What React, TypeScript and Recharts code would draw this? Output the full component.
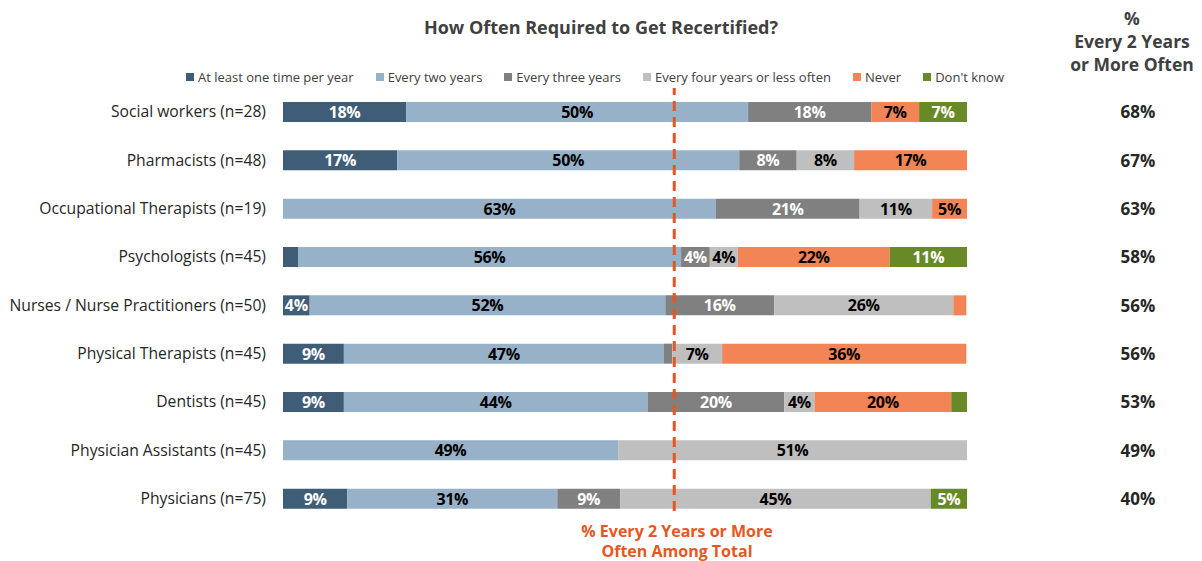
import React from 'react';
import { BarChart, Bar, XAxis, YAxis, LabelList, ReferenceLine } from 'recharts';

const categories = [
  'Social workers (n=28)',
  'Pharmacists (n=48)',
  'Occupational Therapists (n=19)',
  'Psychologists (n=45)',
  'Nurses / Nurse Practitioners (n=50)',
  'Physical Therapists (n=45)',
  'Dentists (n=45)',
  'Physician Assistants (n=45)',
  'Physicians (n=75)',
];

const atLeastOnce = [18, 16.7, 0, 2.2, 3.9, 8.9, 8.9, 0, 9.4];
const everyTwo = [50, 50, 63.3, 56, 52, 46.8, 44.4, 49, 30.7];
const everyThree = [18, 8.4, 21, 4.2, 15.9, 1.2, 20, 0, 9.2];
const everyFour = [0, 8.4, 10.6, 4.1, 26.2, 7.3, 4.4, 51, 45.4];
const never = [7, 16.5, 5.1, 22.2, 1.9, 35.7, 20, 0, 0];
const dontKnow = [7, 0, 0, 11.3, 0, 0, 2.3, 0, 5.3];
const twoOrMore = [68, 67, 63, 58, 56, 56, 53, 49, 40];
const totalLine = 57.2;

const series = [
  { key: 'once', name: 'At least one time per year', color: '#3F5D77', text: '#FFFFFF', values: atLeastOnce },
  { key: 'two', name: 'Every two years', color: '#97B2C8', text: '#000000', values: everyTwo },
  { key: 'three', name: 'Every three years', color: '#808080', text: '#FFFFFF', values: everyThree },
  { key: 'four', name: 'Every four years or less often', color: '#BFBFBF', text: '#000000', values: everyFour },
  { key: 'never', name: 'Never', color: '#F38455', text: '#000000', values: never },
  { key: 'dk', name: "Don't know", color: '#678A26', text: '#FFFFFF', values: dontKnow },
];

const data = categories.map((name, i) => {
  const row: any = { name, pct: twoOrMore[i] };
  series.forEach(s => { row[s.key] = s.values[i]; });
  return row;
});

const FONT = '"Open Sans", sans-serif';

const LeftTick = ({ x, y, payload }: any) => (
  <text x={x} y={y} dx={-9} dy={5} textAnchor="end" fill="#262626" fontSize={15.7} fontFamily={FONT}>
    {payload.value}
  </text>
);

const RightTick = ({ x, y, payload }: any) => {
  const idx = categories.indexOf(payload.value);
  return (
    <text x={x + 163} y={y} dy={6} textAnchor="middle" fill="#262626" fontSize={17} fontWeight="bold" fontFamily={FONT}>
      {`${twoOrMore[idx]}%`}
    </text>
  );
};

const makeLabel = (fill: string) => (props: any) => {
  const { x, y, width, height, value } = props;
  if (!value || value < 3) return null;
  return (
    <text x={x + width / 2} y={y + height / 2} dy={6} textAnchor="middle" fill={fill} fontSize={16} fontWeight="bold" fontFamily={FONT} letterSpacing={-0.3}>
      {`${Math.round(value)}%`}
    </text>
  );
};

const LegendRow = () => (
  <div style={{ position: 'absolute', top: 68, left: 0, width: 1202, display: 'flex', justifyContent: 'center', gap: 22, fontSize: 13, color: '#404040', marginLeft: -6 }}>
    {series.map(s => (
      <div key={s.key} style={{ display: 'flex', alignItems: 'center' }}>
        <span style={{ width: 8, height: 8, background: s.color, display: 'inline-block', marginRight: 4 }} />
        {s.name}
      </div>
    ))}
  </div>
);

export default function App() {
  return (
    <div style={{ position: 'absolute', left: 0, top: 0, width: 1202, height: 561, background: '#fff', fontFamily: FONT }}>
      <div style={{ position: 'absolute', left: 0, width: 1202, top: 15, textAlign: 'center', fontSize: 18, fontWeight: 'bold', color: '#404040' }}>
        How Often Required to Get Recertified?
      </div>
      <div style={{ position: 'absolute', left: 1052, width: 160, top: 7, textAlign: 'center', fontSize: 17.5, fontWeight: 'bold', color: '#404040', lineHeight: '23px' }}>
        %<br />Every 2 Years<br />or More Often
      </div>
      <LegendRow />
      <BarChart
        width={1202}
        height={561}
        data={data}
        layout="vertical"
        margin={{ top: 88, right: 0, bottom: 38, left: 0 }}
        barSize={20}
      >
        <XAxis type="number" domain={[0, 100]} hide />
        <YAxis yAxisId="left" type="category" dataKey="name" width={283} axisLine={false} tickLine={false} tick={<LeftTick />} interval={0} />
        <YAxis yAxisId="right" orientation="right" type="category" dataKey="name" width={235} axisLine={false} tickLine={false} tick={<RightTick />} interval={0} />
        {series.map(s => (
          <Bar key={s.key} yAxisId="left" dataKey={s.key} name={s.name} stackId="a" fill={s.color} isAnimationActive={false}>
            <LabelList dataKey={s.key} content={makeLabel(s.text)} />
          </Bar>
        ))}
        <ReferenceLine yAxisId="left" x={totalLine} stroke="#E8561F" strokeWidth={3} strokeDasharray="0 12 10 6 10 6 10 6 10 6 10 6 10 6 10 6 10 6 10 6 10 6 10 6 10 6 10 6 10 6 10 6 10 6 10 6 10 6 10 6 10 6 10 6 10 6 10 6 10 6 10 6 10 6 10 6 10 6 10 6 10 6 10 6 10 6" />
      </BarChart>
      <div style={{ position: 'absolute', left: 527, width: 300, top: 521, textAlign: 'center', fontSize: 16, fontWeight: 'bold', color: '#E8561F', lineHeight: '20px' }}>
        % Every 2 Years or More<br />Often Among Total
      </div>
    </div>
  );
}
